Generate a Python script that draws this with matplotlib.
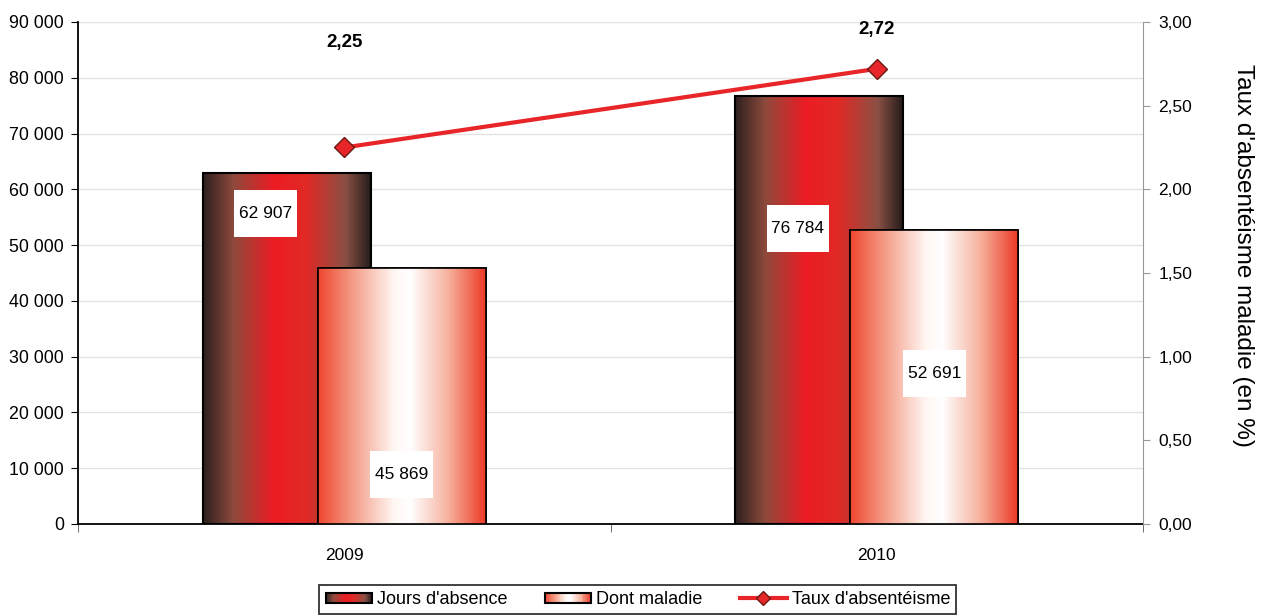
import matplotlib
matplotlib.use("Agg")
import matplotlib.pyplot as plt
import numpy as np
from matplotlib.colors import LinearSegmentedColormap
from matplotlib.legend_handler import HandlerBase
from matplotlib.lines import Line2D
from matplotlib.patches import Rectangle
from matplotlib.ticker import FuncFormatter, MultipleLocator

plt.rcParams['font.family'] = ['Liberation Sans', 'DejaVu Sans']

# Data
years = ["2009", "2010"]
jours_absence = [62907, 76784]
dont_maladie = [45869, 52691]
taux = [2.25, 2.72]

# Layout constants (label placement)
label_y_jours = [55600, 52900]
label_y_maladie = [8800, 27000]
rate_label_offset_px = [105, 39]

jours_cmap = LinearSegmentedColormap.from_list("jours", [
    (0.0, "#2c201e"), (0.18, "#8e4a3c"), (0.42, "#ec1c24"),
    (0.62, "#e02a26"), (0.85, "#8a5044"), (1.0, "#261c1a")])
maladie_cmap = LinearSegmentedColormap.from_list("maladie", [
    (0.0, "#ee4630"), (0.2, "#f49a84"), (0.45, "#fff6f2"),
    (0.55, "#ffffff"), (0.78, "#f6b09c"), (1.0, "#ec3a26")])

grad = np.linspace(0, 1, 256).reshape(1, -1)


def gradient_bars(ax, bars, cmap, z):
    for b in bars:
        x0, y0 = b.get_x(), b.get_y()
        im = ax.imshow(grad, cmap=cmap, aspect="auto", zorder=z,
                       extent=(x0, x0 + b.get_width(), y0, y0 + b.get_height()))
        im.set_clip_path(b)


class GradientHandler(HandlerBase):
    def __init__(self, cmap):
        super().__init__()
        self.cmap = cmap

    def create_artists(self, legend, orig_handle, xdescent, ydescent,
                       width, height, fontsize, trans):
        n = 24
        arts = []
        y0 = -ydescent + height * 0.05
        h = height * 0.8
        for k in range(n):
            r = Rectangle((-xdescent + width * k / n, y0), width / n + 0.3, h,
                          facecolor=self.cmap((k + 0.5) / n), edgecolor="none",
                          transform=trans)
            arts.append(r)
        arts.append(Rectangle((-xdescent, y0), width, h, facecolor="none",
                              edgecolor="black", lw=1.5, transform=trans))
        return arts


fig = plt.figure(figsize=(12.63, 6.16), dpi=100)
ax = fig.add_axes([0.0618, 0.1494, 0.8432, 0.8149])

x = np.arange(len(years))
off, w = 0.108, 0.315

b1 = ax.bar(x - off, jours_absence, w, facecolor="none", edgecolor="black",
            lw=1.5, zorder=3)
gradient_bars(ax, b1, jours_cmap, 2.9)
b2 = ax.bar(x + off, dont_maladie, w, facecolor="white", edgecolor="black",
            lw=1.2, zorder=4)
gradient_bars(ax, b2, maladie_cmap, 4.1)
for b in b2:
    ax.add_patch(Rectangle((b.get_x(), 0), b.get_width(), b.get_height(),
                           facecolor="none", edgecolor="black", lw=1.2, zorder=4.2))

# value labels in white boxes
bw, bh = 0.118, 8400
for i in range(len(years)):
    for cx, cy, v in [(x[i] - off - 0.04, label_y_jours[i], jours_absence[i]),
                      (x[i] + off, label_y_maladie[i], dont_maladie[i])]:
        ax.add_patch(Rectangle((cx - bw / 2, cy - bh / 2), bw, bh,
                               facecolor="white", edgecolor="none", zorder=5))
        ax.text(cx, cy, f"{v:,}".replace(",", " "), ha="center", va="center",
                fontsize=12.5, zorder=6)

ax.set_xlim(-0.5, 1.5)
ax.set_ylim(0, 90000)
ax.yaxis.set_major_locator(MultipleLocator(10000))
ax.yaxis.set_major_formatter(FuncFormatter(lambda v, p: f"{int(v):,}".replace(",", " ")))
ax.grid(axis="y", color="#e2e2e2", lw=1, zorder=0)
ax.set_axisbelow(True)
ax.set_xticks(x)
ax.set_xticklabels(years)
ax.set_xticks([-0.5, 0.5, 1.5], minor=True)
ax.tick_params(axis="x", which="major", length=0, pad=17, labelsize=12.5)
ax.tick_params(axis="x", which="minor", length=6, color="#555555")
ax.tick_params(axis="y", length=5, labelsize=12.8, pad=5)
ax.spines["top"].set_visible(False)
ax.spines["right"].set_visible(False)
ax.spines["left"].set_linewidth(1.3)
ax.spines["bottom"].set_linewidth(1.3)

ax2 = ax.twinx()
ax2.set_ylim(0, 3)
ax2.yaxis.set_major_locator(MultipleLocator(0.5))
ax2.yaxis.set_major_formatter(FuncFormatter(lambda v, p: f"{v:.2f}".replace(".", ",")))
ax2.tick_params(axis="y", length=5, color="#999999", labelsize=12.5, pad=6)
for s in ["top", "left", "bottom"]:
    ax2.spines[s].set_visible(False)
ax2.spines["right"].set_color("#999999")
ax2.set_ylabel("Taux d'absentéisme maladie (en %)", rotation=-90, fontsize=17.5,
               va="center", ha="center")
ax2.yaxis.set_label_coords(1.094, 0.534)
ax2.plot(x, taux, color="#e8262a", lw=3, marker="D", markersize=10,
         markerfacecolor="#e8262a", markeredgecolor="#6a1a14", zorder=7)
for i, v in enumerate(taux):
    ax2.annotate(f"{v:.2f}".replace(".", ","), (x[i], v),
                 xytext=(0, rate_label_offset_px[i]), textcoords="offset pixels",
                 ha="center", va="center", fontsize=13.5, fontweight="bold")

h1 = Rectangle((0, 0), 1, 1)
h2 = Rectangle((0, 0), 1, 1)
h3 = Line2D([], [], color="#e8262a", lw=3, marker="D", markersize=7,
            markerfacecolor="#e8262a", markeredgecolor="#6a1a14")
leg = fig.legend([h1, h2, h3], ["Jours d'absence", "Dont maladie", "Taux d'absentéisme"],
                 handler_map={h1: GradientHandler(jours_cmap), h2: GradientHandler(maladie_cmap)},
                 loc="upper center", bbox_to_anchor=(0.505, 0.051), ncol=3,
                 fontsize=13, frameon=True, fancybox=False, edgecolor="black",
                 handlelength=2.55, columnspacing=2.1, handletextpad=0.28,
                 borderpad=0.35, borderaxespad=0)
leg.get_frame().set_linewidth(1.3)

fig.savefig("out.png", dpi=100)
